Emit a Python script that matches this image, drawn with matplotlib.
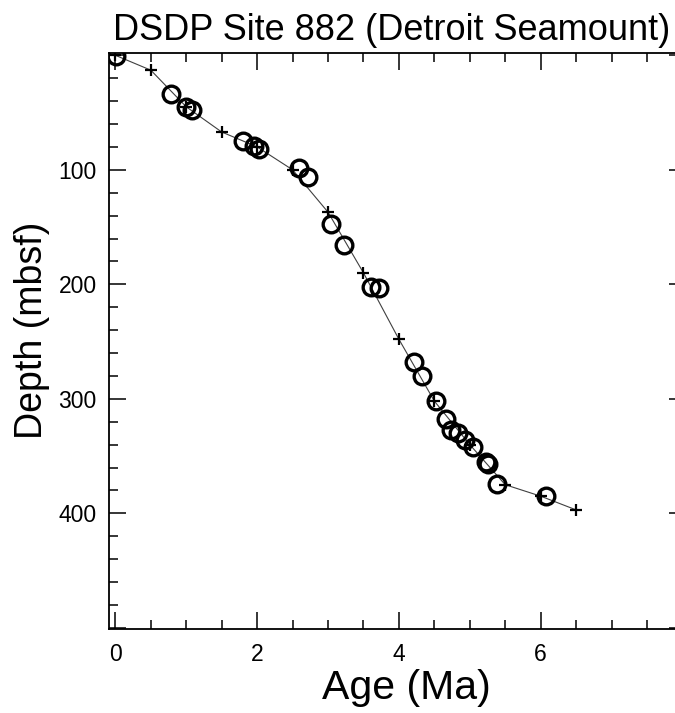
import numpy as np
import matplotlib.pyplot as plt
from matplotlib.ticker import MultipleLocator

plt.rcParams['font.family'] = ['Liberation Sans', 'DejaVu Sans']

# age model tie points (Ma, mbsf)
tie_age = [0.0, 0.5, 1.0, 1.5, 2.0, 2.5, 3.0, 3.5, 4.0, 4.5, 5.0, 5.5, 6.0, 6.5]
tie_depth = [0, 13, 45, 67, 80, 100, 137, 190, 248, 302, 340, 375, 385, 397]

# biostratigraphic datums (Ma, mbsf)
datum_age = [0.01, 0.78, 1.0, 1.08, 1.80, 1.95, 2.02, 2.59, 2.72, 3.04, 3.22,
             3.61, 3.72, 4.21, 4.32, 4.52, 4.66, 4.74, 4.84, 4.93, 5.04,
             5.23, 5.26, 5.38, 6.07]
datum_depth = [1, 34, 45, 48, 75, 79, 82, 98, 106, 147, 166,
               202, 203, 268, 280, 302, 318, 327, 330, 336, 342,
               355, 357, 374, 385]

x_ticks = [0, 2, 4, 6, 8]
x_labels = ['0', '2', '4', '6', '']
y_ticks = [0, 100, 200, 300, 400, 500]
y_labels = ['', '100', '200', '300', '400', '']

fig = plt.figure(figsize=(6.75, 7.13), dpi=100)
ax = fig.add_axes([109 / 675, 1 - 629 / 713, 577 / 675, 576 / 713])

ax.plot(tie_age, tie_depth, color='#404040', lw=0.8, zorder=1)
ax.plot(tie_age, tie_depth, ls='none', marker='+', ms=9, mew=1.6,
        color='black', zorder=3)
ax.plot(datum_age, datum_depth, ls='none', marker='o', ms=12, mew=2.4,
        mfc='none', mec='black', zorder=2)

ax.set_xlim(-0.09, 8.05)
ax.set_ylim(501, -2)
ax.set_xticks(x_ticks)
ax.set_xticklabels(x_labels)
ax.set_yticks(y_ticks)
ax.set_yticklabels(y_labels)
ax.xaxis.set_minor_locator(MultipleLocator(0.5))
ax.yaxis.set_minor_locator(MultipleLocator(20))
ax.tick_params(which='both', direction='in', top=True, right=True,
               labelsize=16.5, width=1.1)
ax.tick_params(which='major', length=12)
ax.tick_params(axis='x', which='major', pad=10)
ax.tick_params(axis='y', which='major', pad=9)
ax.tick_params(which='minor', length=6.5)
for sp in ax.spines.values():
    sp.set_linewidth(1.3)

ax.set_title('DSDP Site 882 (Detroit Seamount)', fontsize=26, pad=9, x=0.49)
ax.set_xlabel('Age (Ma)', fontsize=29.5)
ax.set_ylabel('Depth (mbsf)', fontsize=27)
ax.xaxis.set_label_coords(0.515, -0.07)
ax.yaxis.set_label_coords(-0.103, 0.518)

fig.savefig('out.png', dpi=100)
